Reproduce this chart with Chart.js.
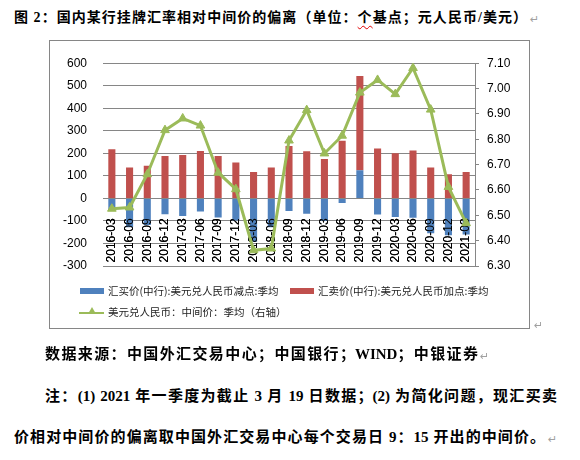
<!DOCTYPE html>
<html>
<head>
<meta charset="utf-8">
<script src="https://cdn.jsdelivr.net/npm/chart.js@4.4.1/dist/chart.umd.min.js"></script>
<style>
  body { margin: 0; width: 580px; height: 460px; background: #fff; position: relative; overflow: hidden;
         font-family: "Liberation Serif", "Noto Sans CJK SC", serif; }
  .txt { position: absolute; font-weight: bold; color: #000; line-height: 20px;
         text-align: justify; text-align-last: justify; }
  .ret { position: absolute; color: #a0a0a0; font-size: 11px; font-family: "DejaVu Sans", sans-serif; line-height: 14px; }
  #box { position: absolute; left: 49px; top: 40px; width: 481px; height: 289px; box-sizing: border-box;
         border: 1px solid #868686; }
  #chart { position: absolute; left: 49px; top: 40px; }
  .lg { position: absolute; font-family: "Noto Sans CJK SC", sans-serif; font-size: 10.5px; color: #222;
        line-height: 14px; white-space: nowrap; }
  .sw { position: absolute; height: 6px; width: 24px; }
  .ln { position: absolute; width: 25px; height: 1.5px; background: #9BBB59; }
  .tri { position: absolute; width: 0; height: 0; border-left: 4px solid transparent;
         border-right: 4px solid transparent; border-bottom: 7px solid #9BBB59; }
  .wavy { text-decoration: underline wavy #e00000; text-decoration-thickness: 1px; text-underline-offset: 3px; }
</style>
</head>
<body>
<div class="txt" style="left:14px;top:8px;width:513px;font-size:14px;">图 2：国内某行挂牌汇率相对中间价的偏离（单位：<span class="wavy">个</span>基点；元人民币/美元）</div>
<span class="ret" style="left:530px;top:13px;">↵</span>

<div id="box"></div>
<canvas id="chart" width="480" height="288"></canvas>

<div class="sw" style="left:80px;top:288px;background:#4F81BD;"></div>
<div class="lg" style="left:108px;top:284px;">汇买价(中行):美元兑人民币减点:季均</div>
<div class="sw" style="left:290px;top:288px;background:#C0504D;"></div>
<div class="lg" style="left:318px;top:284px;">汇卖价(中行):美元兑人民币加点:季均</div>
<div class="ln" style="left:79px;top:312px;"></div>
<div class="tri" style="left:88px;top:307px;"></div>
<div class="lg" style="left:108px;top:305px;">美元兑人民币：中间价：季均（右轴）</div>
<span class="ret" style="left:534px;top:319px;">↵</span>

<div class="txt" style="left:45px;top:344px;width:433px;font-size:15px;">数据来源：中国外汇交易中心；中国银行；WIND；中银证券</div>
<span class="ret" style="left:480px;top:350px;">↵</span>
<div class="txt" style="left:45px;top:386px;width:512px;font-size:15px;">注：(1) 2021 年一季度为截止 3 月 19 日数据；(2) 为简化问题，现汇买卖</div>
<div class="txt" style="left:14px;top:427px;width:531px;font-size:15px;">价相对中间价的偏离取中国外汇交易中心每个交易日 9：15 开出的中间价。</div>
<span class="ret" style="left:548px;top:433px;">↵</span>

<script>
const categories = ["2016-03", "2016-06", "2016-09", "2016-12", "2017-03", "2017-06", "2017-09",
  "2017-12", "2018-03", "2018-06", "2018-09", "2018-12", "2019-03", "2019-06", "2019-09",
  "2019-12", "2020-03", "2020-06", "2020-09", "2020-12", "2021-03"];

// buy price minus mid rate (blue), basis points
const buySpread = [-55, -128, -118, -70, -78, -58, -85, -98, -192, -128, -56, -68, -100, -20,
  125, -72, -82, -86, -155, -163, -160];

// sell price plus mid rate (red), stacked on the blue bars
const sellSpread = [218, 137, 145, 188, 193, 210, 188, 159, 117, 137, 232, 209, 175, 256,
  418, 222, 200, 213, 137, 107, 117];

// USD/CNY mid rate, quarterly average (right axis)
const midRate = [6.526, 6.531, 6.662, 6.836, 6.882, 6.854, 6.668, 6.603, 6.362, 6.369, 6.795,
  6.915, 6.744, 6.814, 6.984, 7.034, 6.978, 7.081, 6.917, 6.612, 6.469];

const leftTicks = { min: -300, max: 600, step: 100 };
const rightTicks = { min: 6.3, max: 7.1, step: 0.1 };

const GRID = "#868686";
const tickFont = { family: "Liberation Sans", size: 12 };

// category labels sit on top of the bars but under the green line
const labelsOverBars = {
  id: "labelsOverBars",
  beforeDatasetDraw(chart, args) {
    if (args.index === 2) chart.scales.x.drawLabels(chart.chartArea);
  },
};

new Chart(document.getElementById("chart"), {
  data: {
    labels: categories,
    datasets: [
      {
        type: "bar",
        label: "汇买价(中行):美元兑人民币减点:季均",
        data: buySpread,
        backgroundColor: "#4F81BD",
        yAxisID: "y",
        order: 1,
        barPercentage: 0.4,
        categoryPercentage: 1,
      },
      {
        type: "bar",
        label: "汇卖价(中行):美元兑人民币加点:季均",
        data: sellSpread,
        backgroundColor: "#C0504D",
        yAxisID: "y",
        order: 1,
        barPercentage: 0.4,
        categoryPercentage: 1,
      },
      {
        type: "line",
        label: "美元兑人民币：中间价：季均（右轴）",
        data: midRate,
        yAxisID: "y2",
        order: 0,
        borderColor: "#9BBB59",
        borderWidth: 3,
        tension: 0,
        pointStyle: "triangle",
        pointRadius: 5,
        pointBorderWidth: 1,
        pointBackgroundColor: "#9BBB59",
        pointBorderColor: "#9BBB59",
      },
    ],
  },
  options: {
    responsive: false,
    animation: false,
    layout: { padding: { top: 14, bottom: 62, left: 0, right: 0 } },
    plugins: { legend: { display: false }, tooltip: { enabled: false } },
    scales: {
      x: {
        stacked: true,
        position: { y: 0 },
        grid: { display: false },
        border: { display: false },
        ticks: { minRotation: 90, maxRotation: 90, autoSkip: false, padding: 12, color: "#000", font: tickFont },
      },
      y: {
        stacked: true,
        position: "left",
        min: leftTicks.min,
        max: leftTicks.max,
        ticks: { stepSize: leftTicks.step, padding: 16, color: "#000", font: tickFont },
        grid: { color: GRID, drawTicks: false },
        border: { display: false },
        afterFit: (s) => { s.width = 54; },
      },
      y2: {
        position: "right",
        min: rightTicks.min,
        max: rightTicks.max,
        ticks: { stepSize: rightTicks.step, padding: 8, color: "#000", font: tickFont,
                 callback: (v) => v.toFixed(2) },
        grid: { drawOnChartArea: false, color: GRID, tickLength: 4 },
        border: { display: true, color: GRID },
        afterFit: (s) => { s.width = 54; },
      },
    },
  },
  plugins: [labelsOverBars],
});
</script>
</body>
</html>
